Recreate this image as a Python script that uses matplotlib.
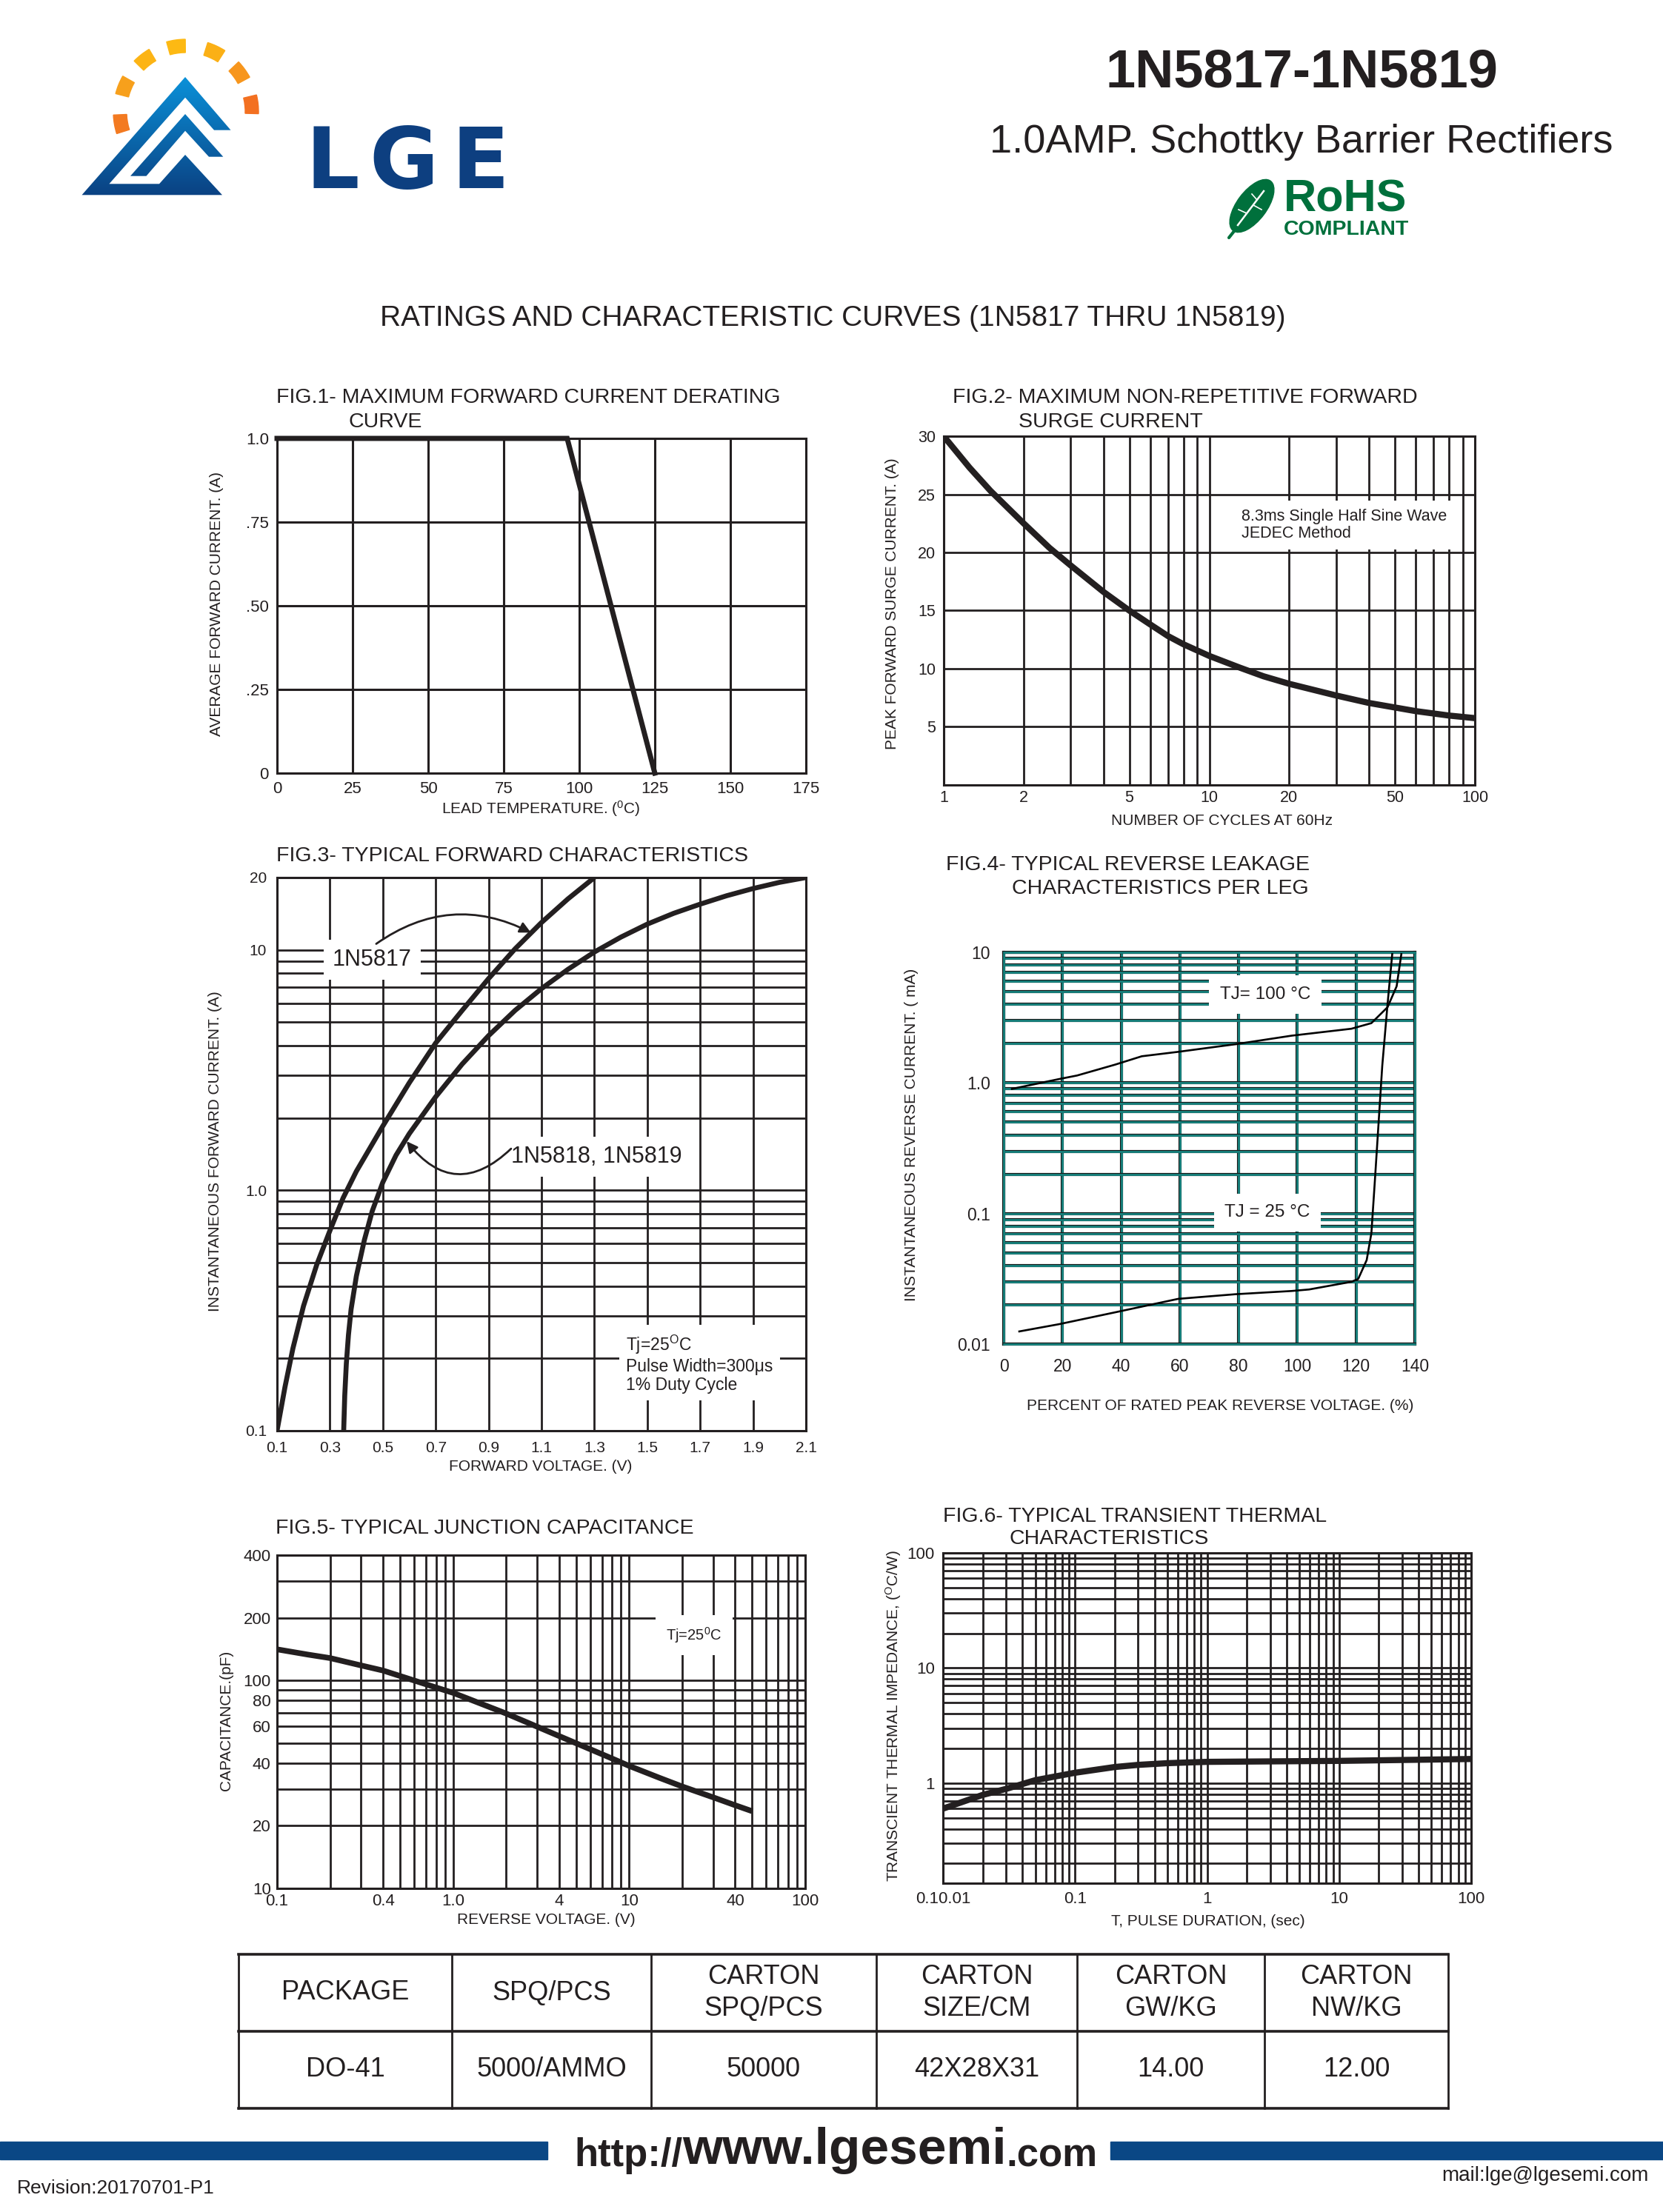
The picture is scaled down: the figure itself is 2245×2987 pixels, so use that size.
import numpy as np
import matplotlib
matplotlib.use('Agg')
import matplotlib.pyplot as plt
import matplotlib.patheffects as pe
from matplotlib.patches import Polygon, Wedge, Ellipse, Rectangle
from matplotlib.colors import LinearSegmentedColormap
from matplotlib.ticker import FixedLocator, FixedFormatter, NullFormatter

W, H = 2245, 2987
INK = '#231f20'
TEAL = '#16837e'

# ---- values ----
fig1_temp = [0, 96, 125]
fig1_current = [1.0, 1.0, 0.0]
fig1_xticks = [0, 25, 50, 75, 100, 125, 150, 175]
fig1_yticks = [0, 0.25, 0.5, 0.75, 1.0]
fig1_ylabels = ['0', '.25', '.50', '.75', '1.0']

fig2_cycles = [1, 1.25, 1.5, 2, 2.5, 3, 4, 5, 6, 7, 8, 10, 13, 16, 20, 30, 40, 60, 80, 100]
fig2_current = [30, 27.3, 25.3, 22.5, 20.4, 18.9, 16.6, 15.0, 13.8, 12.8, 12.1, 11.1, 10.1, 9.35,
                8.7, 7.7, 7.05, 6.35, 5.97, 5.75]
fig2_xticks = [1, 2, 5, 10, 20, 50, 100]
fig2_yticks = [5, 10, 15, 20, 25, 30]

fig3_v_5817 = [0.1, 0.13, 0.16, 0.2, 0.25, 0.3, 0.35, 0.4, 0.5, 0.6, 0.7, 0.8, 0.9, 1.0, 1.1, 1.2, 1.3]
fig3_i_5817 = [0.1, 0.152, 0.22, 0.33, 0.49, 0.68, 0.93, 1.2, 1.85, 2.8, 4.1, 5.6, 7.6, 10.1, 13.0,
               16.3, 20]
fig3_v_5818 = [0.352, 0.356, 0.362, 0.37, 0.38, 0.40, 0.43, 0.46, 0.5, 0.55, 0.6, 0.7, 0.8, 0.9, 1.0,
               1.1, 1.2, 1.3, 1.4, 1.5, 1.6, 1.7, 1.8, 1.9, 2.0, 2.1]
fig3_i_5818 = [0.1, 0.14, 0.19, 0.25, 0.32, 0.44, 0.62, 0.82, 1.08, 1.4, 1.72, 2.45, 3.35, 4.4, 5.6,
               6.9, 8.3, 9.8, 11.3, 12.8, 14.2, 15.5, 16.8, 18.0, 19.1, 20]
fig3_xticks = [0.1, 0.3, 0.5, 0.7, 0.9, 1.1, 1.3, 1.5, 1.7, 1.9, 2.1]
fig3_yticks = [0.1, 1.0, 10, 20]
fig3_ylabels = ['0.1', '1.0', '10', '20']

fig4_pct_100 = [2.8, 18.8, 25, 37.9, 47, 59.4, 79, 98, 118.4, 125.2, 130.7, 133.8, 135.4]
fig4_ir_100 = [0.9, 1.07, 1.14, 1.38, 1.6, 1.73, 1.98, 2.3, 2.6, 2.87, 3.8, 5.5, 9.7]
fig4_pct_25 = [5.3, 18.8, 37.9, 59.4, 79, 98, 104, 118.4, 120.7, 123.6, 125.2, 126.4, 128.9, 130.7, 132.3]
fig4_ir_25 = [0.0125, 0.0142, 0.0175, 0.0222, 0.0241, 0.0255, 0.0262, 0.030, 0.0315, 0.044,
              0.0707, 0.18, 1.35, 4.0, 9.7]
fig4_xticks = [0, 20, 40, 60, 80, 100, 120, 140]
fig4_yticks = [0.01, 0.1, 1, 10]
fig4_ylabels = ['0.01', '0.1', '1.0', '10']

fig5_volt = [0.1, 0.15, 0.2, 0.3, 0.4, 0.6, 0.8, 1.0, 1.5, 2, 3, 4, 6, 8, 10, 15, 20, 30, 40, 50]
fig5_cap = [141, 133, 128, 118, 111.5, 99.9, 92.4, 87.1, 76.2, 69.3, 59.9, 54.0, 46.7, 42.1, 38.8,
            33.9, 30.9, 27.4, 25.1, 23.5]
fig5_xticks = [0.1, 0.4, 1, 4, 10, 40, 100]
fig5_xlabels = ['0.1', '0.4', '1.0', '4', '10', '40', '100']
fig5_yticks = [10, 20, 40, 60, 80, 100, 200, 400]

fig6_time = [0.01, 0.02, 0.03, 0.05, 0.1, 0.2, 0.3, 0.5, 0.7, 1, 10, 100]
fig6_z = [0.6, 0.79, 0.89, 1.06, 1.23, 1.38, 1.44, 1.49, 1.51, 1.53, 1.56, 1.62]
fig6_xticks = [0.01, 0.1, 1, 10, 100]
fig6_xlabels = ['0.10.01', '0.1', '1', '10', '100']
fig6_yticks = [1, 10, 100]

table_header = ['PACKAGE', 'SPQ/PCS', 'CARTON\nSPQ/PCS', 'CARTON\nSIZE/CM', 'CARTON\nGW/KG', 'CARTON\nNW/KG']
table_row = ['DO-41', '5000/AMMO', '50000', '42X28X31', '14.00', '12.00']

plt.rcParams['font.family'] = ['Liberation Sans', 'DejaVu Sans']
plt.rcParams['mathtext.fontset'] = 'custom'
plt.rcParams['mathtext.rm'] = 'Liberation Sans'
plt.rcParams['mathtext.it'] = 'Liberation Sans:italic'
plt.rcParams['mathtext.bf'] = 'Liberation Sans:bold'
plt.rcParams['text.color'] = INK

fig = plt.figure(figsize=(W / 100, H / 100), dpi=100)

# page layer in pixel coordinates (y down)
page = fig.add_axes([0, 0, 1, 1])
page.axis('off')


def px_axes(l, t, r, b):
    return fig.add_axes([l / W, 1 - b / H, (r - l) / W, (b - t) / H])


def log_grid(lo, hi):
    vals = []
    d = int(np.floor(np.log10(lo)))
    while 10.0 ** d <= hi * 1.0001:
        for k in range(1, 10):
            v = k * 10.0 ** d
            if lo * 0.9999 <= v <= hi * 1.0001:
                vals.append(v)
        d += 1
    return vals


def ticks(axis, major, labels, minor=()):
    axis.set_major_locator(FixedLocator(major))
    axis.set_major_formatter(FixedFormatter(labels))
    axis.set_minor_locator(FixedLocator([v for v in minor if not np.any(np.isclose(v, major))]))
    axis.set_minor_formatter(NullFormatter())


def frame(ax, size, padx, pady, lw=2.2, glw=2.0):
    for s in ax.spines.values():
        s.set_linewidth(lw)
        s.set_color(INK)
    ax.tick_params(which='both', length=0, labelsize=size, colors=INK)
    ax.tick_params(axis='x', pad=padx)
    ax.tick_params(axis='y', pad=pady)
    ax.grid(True, which='both', color=INK, lw=glw)
    ax.set_axisbelow(True)


def curve(ax, x, y, lw, **kw):
    ax.plot(x, y, color=INK, lw=lw, solid_joinstyle='round', solid_capstyle='butt', zorder=3, **kw)


white_box = dict(boxstyle='square,pad=0.4', fc='white', ec='none')

# ---------------- FIG 1 ----------------
ax1 = px_axes(374, 592, 1088, 1044)
ax1.plot(fig1_temp, fig1_current, color=INK, lw=5, solid_joinstyle='miter', clip_on=False, zorder=3)
ax1.set_xlim(0, 175)
ax1.set_ylim(0, 1)
ticks(ax1.xaxis, fig1_xticks, [str(v) for v in fig1_xticks])
ticks(ax1.yaxis, fig1_yticks, fig1_ylabels)
frame(ax1, 16, 8, 8, glw=2.2)

# ---------------- FIG 2 ----------------
ax2 = px_axes(1274, 589, 1991, 1060)
ax2.set_xscale('log')
curve(ax2, fig2_cycles, fig2_current, 6)
ax2.set_xlim(1, 100)
ax2.set_ylim(0, 30)
ticks(ax2.xaxis, fig2_xticks, [str(v) for v in fig2_xticks], log_grid(1, 100))
ticks(ax2.yaxis, fig2_yticks, [str(v) for v in fig2_yticks])
frame(ax2, 15.5, 5, 8)
ax2.text(13.2, 22.35, '8.3ms Single Half Sine Wave\nJEDEC Method', fontsize=15.5, ha='left', va='center',
         linespacing=1.15, bbox=dict(boxstyle='square,pad=0.5', fc='white', ec='none'), zorder=2.5)

# ---------------- FIG 3 ----------------
ax3 = px_axes(374, 1185, 1088, 1932)
ax3.set_yscale('log')
curve(ax3, fig3_v_5817, fig3_i_5817, 4.8)
curve(ax3, fig3_v_5818, fig3_i_5818, 4.8)
ax3.set_xlim(0.1, 2.1)
ax3.set_ylim(0.1, 20)
ticks(ax3.xaxis, fig3_xticks, ['%.1f' % v for v in fig3_xticks])
ticks(ax3.yaxis, fig3_yticks, fig3_ylabels, log_grid(0.1, 20))
frame(ax3, 15, 10, 10)
ax3.text(0.46, 9.1, '1N5817', fontsize=22, ha='center', va='center', bbox=white_box, zorder=2.5)
ax3.text(1.309, 1.38, '1N5818, 1N5819', fontsize=22, ha='center', va='center', bbox=white_box, zorder=2.5)
ax3.annotate('', xy=(1.06, 11.8), xytext=(0.475, 10.6),
             arrowprops=dict(arrowstyle='-|>', color=INK, lw=2, mutation_scale=22,
                             connectionstyle='arc3,rad=-0.3', shrinkA=0, shrinkB=0), zorder=4)
ax3.annotate('', xy=(0.59, 1.6), xytext=(0.985, 1.49),
             arrowprops=dict(arrowstyle='-|>', color=INK, lw=2, mutation_scale=22,
                             connectionstyle='arc3,rad=-0.55', shrinkA=0, shrinkB=0), zorder=4)
ax3.text(1.42, 0.19, 'Tj=25$^\\mathrm{O}$C\nPulse Width=300μs\n1% Duty Cycle', fontsize=16.5,
         ha='left', va='center', linespacing=1.15, bbox=white_box, zorder=2.5)

# ---------------- FIG 4 ----------------
ax4 = px_axes(1355, 1286, 1910, 1815)
ax4.set_yscale('log')
ax4.plot(fig4_pct_100, fig4_ir_100, color='black', lw=1.9, zorder=3)
ax4.plot(fig4_pct_25, fig4_ir_25, color='black', lw=1.9, zorder=3)
ax4.set_xlim(0, 140)
ax4.set_ylim(0.01, 10)
ticks(ax4.xaxis, fig4_xticks, [str(v) for v in fig4_xticks])
ticks(ax4.yaxis, fig4_yticks, fig4_ylabels, log_grid(0.01, 10))
ax4.tick_params(which='both', length=0, labelsize=16.5, colors=INK)
ax4.tick_params(axis='x', pad=14)
ax4.tick_params(axis='y', pad=13)
outline = [pe.Stroke(linewidth=3.0, foreground='#1a1a1a'), pe.Normal()]
ax4.grid(True, which='both', color=TEAL, lw=2.0, path_effects=outline)
ax4.set_axisbelow(True)
for s in ax4.spines.values():
    s.set_color(TEAL)
    s.set_linewidth(2.0)
    s.set_path_effects(outline)
ax4.text(89, 4.75, 'TJ= 100 °C', fontsize=17.5, ha='center', va='center',
         bbox=dict(boxstyle='square,pad=0.6', fc='white', ec='none'), zorder=2.5)
ax4.text(89.8, 0.102, 'TJ = 25 °C', fontsize=17.5, ha='center', va='center',
         bbox=dict(boxstyle='square,pad=0.6', fc='white', ec='none'), zorder=2.5)

# ---------------- FIG 5 ----------------
ax5 = px_axes(374, 2100, 1087, 2550)
ax5.set_xscale('log')
ax5.set_yscale('log')
curve(ax5, fig5_volt, fig5_cap, 5.5)
ax5.set_xlim(0.1, 100)
ax5.set_ylim(10, 400)
ticks(ax5.xaxis, fig5_xticks, fig5_xlabels, log_grid(0.1, 100))
ticks(ax5.yaxis, fig5_yticks, [str(v) for v in fig5_yticks], log_grid(10, 400))
frame(ax5, 16, 5, 6)
ax5.text(23.4, 165, 'Tj=25$^0$C', fontsize=14.5, ha='center', va='center',
         bbox=dict(boxstyle='square,pad=0.7', fc='white', ec='none'), zorder=2.5)

# ---------------- FIG 6 ----------------
ax6 = px_axes(1273, 2097, 1986, 2543)
ax6.set_xscale('log')
ax6.set_yscale('log')
curve(ax6, fig6_time, fig6_z, 6)
ax6.set_xlim(0.01, 100)
ax6.set_ylim(0.135, 100)
ticks(ax6.xaxis, fig6_xticks, fig6_xlabels, log_grid(0.01, 100))
ticks(ax6.yaxis, fig6_yticks, [str(v) for v in fig6_yticks], log_grid(0.135, 100))
frame(ax6, 16, 8, 8)

# ---------------- page text ----------------
titles = [
    (373, 537, 'FIG.1- MAXIMUM FORWARD CURRENT DERATING'), (471, 570, 'CURVE'),
    (1286, 537, 'FIG.2- MAXIMUM NON-REPETITIVE FORWARD'), (1375, 570, 'SURGE CURRENT'),
    (373, 1156, 'FIG.3- TYPICAL FORWARD CHARACTERISTICS'),
    (1277, 1168, 'FIG.4- TYPICAL REVERSE LEAKAGE'), (1366, 1200, 'CHARACTERISTICS PER LEG'),
    (372, 2064, 'FIG.5- TYPICAL JUNCTION CAPACITANCE'),
    (1273, 2048, 'FIG.6- TYPICAL TRANSIENT THERMAL'), (1362, 2078, 'CHARACTERISTICS'),
]
for x, y, s in titles:
    page.text(x, y, s, fontsize=20.5, ha='left', va='center')

xlabels = [
    (730, 1092, 'LEAD TEMPERATURE. ($^0$C)'), (1650, 1109, 'NUMBER OF CYCLES AT 60Hz'),
    (730, 1981, 'FORWARD VOLTAGE. (V)'), (1647, 1899, 'PERCENT OF RATED PEAK REVERSE VOLTAGE. (%)'),
    (737, 2593, 'REVERSE VOLTAGE. (V)'), (1631, 2595, 'T, PULSE DURATION, (sec)'),
]
for x, y, s in xlabels:
    page.text(x, y, s, fontsize=15, ha='center', va='center')

ylabels = [
    (292, 816, 'AVERAGE FORWARD CURRENT. (A)'), (1205, 815, 'PEAK FORWARD SURGE CURRENT. (A)'),
    (290, 1555, 'INSTANTANEOUS FORWARD CURRENT. (A)'), (1231, 1532, 'INSTANTANEOUS REVERSE CURRENT. ( mA)'),
    (305, 2323, 'CAPACITANCE.(pF)'), (1206, 2317, 'TRANSCIENT THERMAL IMPEDANCE, ($^\\mathrm{O}$C/W)'),
]
for x, y, s in ylabels:
    page.text(x, y, s, fontsize=15, ha='center', va='center', rotation=90)

# header
page.text(1757, 99, '1N5817-1N5819', fontsize=52, fontweight='bold', ha='center', va='center')
page.text(1757, 192, '1.0AMP. Schottky Barrier Rectifiers', fontsize=39, ha='center', va='center')
page.text(1124, 430, 'RATINGS AND CHARACTERISTIC CURVES (1N5817 THRU 1N5819)', fontsize=28,
          ha='center', va='center')

# RoHS mark
GREEN = '#00703c'
page.add_patch(Ellipse((1690, 278), 84, 40, angle=-53, color=GREEN))
page.plot([1659, 1674], [321, 302], color=GREEN, lw=3, solid_capstyle='round')
page.plot([1671, 1706], [304, 258], color='white', lw=1.8)
page.plot([1683, 1672], [288, 283], color='white', lw=1.2)
page.plot([1692, 1703], [277, 283], color='white', lw=1.2)
page.plot([1697, 1690], [270, 262], color='white', lw=1.2)
page.text(1733, 285, 'RoHS', fontsize=44, fontweight='bold', color=GREEN, ha='left', va='baseline')
page.text(1733, 317, 'COMPLIANT', fontsize=20.5, fontweight='bold', color=GREEN, ha='left', va='baseline')

# LGE logo
blues = LinearSegmentedColormap.from_list('lge', ['#0a93db', '#0b3f80'])
grad = np.linspace(0, 1, 256).reshape(-1, 1)
outer = [(110.5, 263.3), (250, 104), (311.5, 175.7), (289, 175.7), (250, 131.7), (147.4, 248.3),
         (215, 248.3), (250, 209), (300, 263.3)]
inner = [(176, 237.7), (250, 154), (301.3, 211.7), (282, 211.7), (250, 176.7), (197.5, 237.7)]
for pts in (outer, inner):
    im = page.imshow(grad, cmap=blues, extent=(105, 320, 268, 100), aspect='auto', origin='upper')
    im.set_clip_path(Polygon(pts, closed=True, transform=page.transData))
dash_angles = [190, 158, 128, 98, 65, 36, 6]
dash_colors = ['#f37a21', '#f7a01c', '#fcb415', '#fdb913', '#fbb016', '#f7961d', '#f37021']
for a, c in zip(dash_angles, dash_colors):
    page.add_patch(Wedge((251, 151), 98, -a - 7.5, -a + 7.5, width=18, color=c))
for x, ch in zip([449, 545, 648], 'LGE'):
    page.text(x, 254, ch, fontsize=82, fontweight='bold', color='#0d3f80', ha='center', va='baseline',
              family='DejaVu Sans')

# packing table
cols = [322, 610, 879, 1183, 1454, 1707, 1955]
rows = [2639, 2743, 2847]
for y in rows:
    page.plot([cols[0], cols[-1]], [y, y], color=INK, lw=2.6, solid_capstyle='projecting')
for x in cols:
    page.plot([x, x], [rows[0], rows[-1]], color=INK, lw=2.0)
for i in range(len(table_header)):
    cx = (cols[i] + cols[i + 1]) / 2
    page.text(cx, (rows[0] + rows[1]) / 2, table_header[i], fontsize=26, ha='center', va='center',
              linespacing=1.3)
    page.text(cx, (rows[1] + rows[2]) / 2, table_row[i], fontsize=26, ha='center', va='center')

# footer
page.add_patch(Rectangle((0, 2892), 739, 24, color='#0a4785'))
page.add_patch(Rectangle((1499, 2892), 746, 24, color='#0a4785'))
mid = page.text(1140, 2922, 'www.lgesemi', fontsize=50, fontweight='bold', ha='center', va='baseline')
page.annotate('http://', xy=(0, 0), xycoords=mid, fontsize=38, fontweight='bold', ha='right', va='bottom')
page.annotate('.com', xy=(1, 0), xycoords=mid, fontsize=38, fontweight='bold', ha='left', va='bottom')
page.text(23, 2955, 'Revision:20170701-P1', fontsize=19, ha='left', va='center')
page.text(2226, 2938, 'mail:lge@lgesemi.com', fontsize=20, ha='right', va='center')

page.set_xlim(0, W)
page.set_ylim(H, 0)

fig.savefig('out.png', dpi=100, facecolor='white')
